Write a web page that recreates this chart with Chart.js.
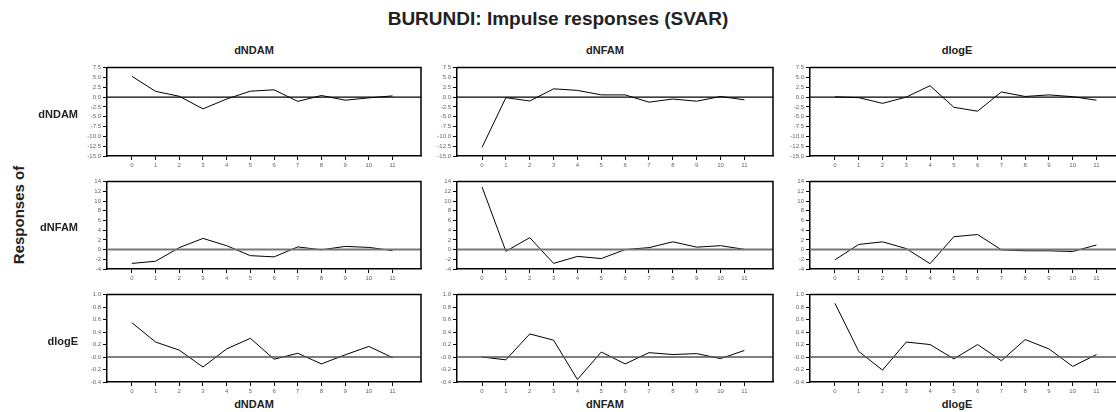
<!DOCTYPE html>
<html>
<head>
<meta charset="utf-8">
<script src="https://cdn.jsdelivr.net/npm/chart.js@4.4.1/dist/chart.umd.min.js"></script>
<style>
  body { margin: 0; width: 1116px; height: 412px; overflow: hidden; background: #fff; position: relative; font-family: "Liberation Sans", Arial, sans-serif; }
  canvas { position: absolute; }
  .lbl { position: absolute; font-weight: bold; color: #222; white-space: nowrap; }
  .title { font-size: 19px; left: 0; width: 1116px; text-align: center; top: 8px; }
  .col { font-size: 11px; width: 120px; text-align: center; }
  .row { font-size: 11px; width: 70px; text-align: right; left: 8px; }
  .side { font-size: 15px; left: 18px; top: 215px; transform: translate(-50%, -50%) rotate(-90deg); }
</style>
</head>
<body>
<div class="lbl title">BURUNDI: Impulse responses (SVAR)</div>
<div class="lbl side">Responses of</div>

<script>
// DATA
const shocks = ["dNDAM", "dNFAM", "dlogE"];
const responses = ["dNDAM", "dNFAM", "dlogE"];
const periods = [0, 1, 2, 3, 4, 5, 6, 7, 8, 9, 10, 11];

// responses of dNDAM
const ndam_ndam = [5.3, 1.45, 0.2, -3.0, -0.5, 1.5, 1.85, -1.1, 0.4, -0.8, -0.2, 0.3];
const ndam_nfam = [-12.8, -0.15, -1.0, 2.1, 1.7, 0.55, 0.55, -1.3, -0.5, -1.05, 0.15, -0.7];
const ndam_loge = [0.05, -0.15, -1.6, 0.0, 2.9, -2.6, -3.6, 1.3, 0.15, 0.55, 0.1, -0.8];

// responses of dNFAM
const nfam_ndam = [-2.85, -2.4, 0.4, 2.3, 0.8, -1.25, -1.5, 0.55, -0.05, 0.65, 0.45, -0.2];
const nfam_nfam = [12.9, -0.35, 2.45, -2.85, -1.4, -1.85, 0.0, 0.4, 1.6, 0.5, 0.8, 0.05];
const nfam_loge = [-2.1, 1.05, 1.6, 0.2, -2.9, 2.65, 3.1, -0.05, -0.25, -0.25, -0.4, 0.95];

// responses of dlogE
const loge_ndam = [0.55, 0.24, 0.11, -0.16, 0.13, 0.30, -0.035, 0.06, -0.11, 0.035, 0.17, -0.01];
const loge_nfam = [0.0, -0.045, 0.37, 0.27, -0.36, 0.08, -0.11, 0.07, 0.04, 0.055, -0.025, 0.105];
const loge_loge = [0.86, 0.09, -0.21, 0.24, 0.2, -0.03, 0.2, -0.06, 0.28, 0.13, -0.15, 0.04];

const series = [
  [ndam_ndam, ndam_nfam, ndam_loge],
  [nfam_ndam, nfam_nfam, nfam_loge],
  [loge_ndam, loge_nfam, loge_loge]
];

// y scale per response row
const yMin = [-15, -4, -0.4];
const yMax = [7.5, 14, 1.0];
const yStep = [2.5, 2, 0.2];
const yDigits = [1, 0, 1];

// LAYOUT (plot area edges)
const colLeft = [107, 457, 810];
const colRight = [421, 773, 1125];
const rowTop = [64, 178, 291];
const rowBottom = [156, 269, 382];
const colTitleX = [254, 605, 957];
const zeroColor = ["#000", "#777", "#555"];
const zeroWidth = [1.3, 2, 1.5];

const Y_W = 30;
const X_H = 16;
const PAD = 2;

// frame + zero line
const framePlugin = {
  id: "frame",
  afterDraw(chart, args, opts) {
    const a = chart.chartArea;
    const ctx = chart.ctx;
    const y0 = chart.scales.y.getPixelForValue(0);
    ctx.save();
    ctx.strokeStyle = opts.zeroColor;
    ctx.lineWidth = opts.zeroWidth;
    ctx.beginPath();
    ctx.moveTo(a.left, y0);
    ctx.lineTo(a.right, y0);
    ctx.stroke();
    ctx.strokeStyle = "#000";
    ctx.lineWidth = 1.5;
    ctx.beginPath();
    ctx.moveTo(a.left, a.top);
    ctx.lineTo(a.right, a.top);
    ctx.lineTo(a.right, a.bottom);
    ctx.stroke();
    ctx.restore();
  }
};

function addLabel(cls, text, x, y) {
  const d = document.createElement("div");
  d.className = "lbl " + cls;
  d.textContent = text;
  d.style.left = x + "px";
  d.style.top = y + "px";
  document.body.appendChild(d);
}

function makePanel(r, c) {
  const L = colLeft[c], R = colRight[c], T = rowTop[r], B = rowBottom[r];
  const cv = document.createElement("canvas");
  const w = R - L + Y_W + PAD;
  const h = B - T + PAD + X_H;
  cv.width = w;
  cv.height = h;
  cv.style.left = (L - Y_W) + "px";
  cv.style.top = (T - PAD) + "px";
  cv.style.width = w + "px";
  cv.style.height = h + "px";
  document.body.appendChild(cv);

  new Chart(cv, {
    type: "line",
    data: {
      datasets: [{
        data: periods.map((p, i) => ({ x: p, y: series[r][c][i] })),
        borderColor: "#000",
        borderWidth: 1,
        pointRadius: 0,
        tension: 0,
        fill: false
      }]
    },
    options: {
      responsive: false,
      animation: false,
      devicePixelRatio: 1,
      layout: { padding: { top: PAD, right: PAD, left: 0, bottom: 0 } },
      plugins: {
        legend: { display: false },
        tooltip: { enabled: false },
        frame: { zeroColor: zeroColor[r], zeroWidth: zeroWidth[r] }
      },
      scales: {
        x: {
          type: "linear",
          min: -1.05,
          max: 12.2,
          afterBuildTicks: s => { s.ticks = periods.map(v => ({ value: v })); },
          afterFit: s => { s.height = X_H; },
          grid: { drawOnChartArea: false, drawTicks: true, tickLength: 4, color: "#000", lineWidth: 1 },
          border: { display: true, color: "#000", width: 1.5 },
          ticks: { font: { size: 6, family: "Liberation Sans" }, color: "#666", padding: 2, maxRotation: 0, autoSkip: false }
        },
        y: {
          min: yMin[r],
          max: yMax[r],
          afterFit: s => { s.width = Y_W; },
          grid: { drawOnChartArea: false, drawTicks: true, tickLength: 4, color: "#000", lineWidth: 1 },
          border: { display: true, color: "#000", width: 1.5 },
          ticks: {
            stepSize: yStep[r],
            font: { size: 6, family: "Liberation Sans" },
            color: "#666",
            padding: 2,
            autoSkip: false,
            callback: v => (+v).toFixed(yDigits[r])
          }
        }
      }
    },
    plugins: [framePlugin]
  });
}

for (let r = 0; r < 3; r++) {
  for (let c = 0; c < 3; c++) makePanel(r, c);
}

// TEXT LABELS
shocks.forEach((s, c) => {
  addLabel("col", s, colTitleX[c] - 60, 44);
  addLabel("col", s, colTitleX[c] - 60, 398);
});
const rowLabelY = [115, 228, 342];
responses.forEach((s, r) => {
  addLabel("row", s, 8, rowLabelY[r] - 7);
});
</script>
</body>
</html>
